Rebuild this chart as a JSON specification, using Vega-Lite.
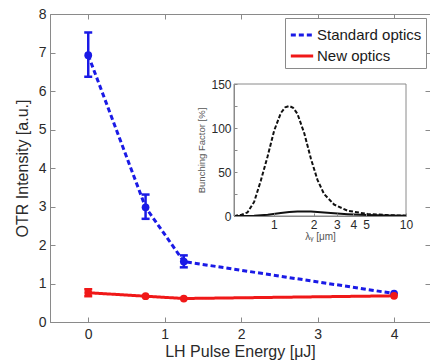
{
  "$schema": "https://vega.github.io/schema/vega-lite/v6.json",
  "width": 380,
  "height": 308,
  "autosize": {"type": "none"},
  "padding": {"left": 50, "top": 14, "right": 0, "bottom": 41},
  "background": "white",
  "config": {
    "font": "Liberation Sans",
    "view": {"stroke": "#8a8a8a", "strokeWidth": 1},
    "axis": {"grid": false, "labelOverlap": false, "domainColor": "#8a8a8a", "tickColor": "#8a8a8a", "labelColor": "#2a2a2a", "titleColor": "#2a2a2a", "titleFontWeight": "normal", "labelFont": "Liberation Sans", "titleFont": "Liberation Sans"},
    "legend": {"labelFont": "Liberation Sans"}
  },
  "datasets": {
    "main": [
      {"e": 0, "v": 6.93, "lo": 6.37, "hi": 7.52, "s": "Standard optics"},
      {"e": 0.75, "v": 2.98, "lo": 2.68, "hi": 3.31, "s": "Standard optics"},
      {"e": 1.25, "v": 1.57, "lo": 1.42, "hi": 1.73, "s": "Standard optics"},
      {"e": 4, "v": 0.74, "lo": null, "hi": null, "s": "Standard optics"},
      {"e": 0, "v": 0.76, "lo": 0.67, "hi": 0.85, "s": "New optics"},
      {"e": 0.75, "v": 0.67, "lo": null, "hi": null, "s": "New optics"},
      {"e": 1.25, "v": 0.61, "lo": null, "hi": null, "s": "New optics"},
      {"e": 4, "v": 0.68, "lo": null, "hi": null, "s": "New optics"}
    ],
    "inset": [
      {"lam": 0.5, "bf": 0, "c": "std"},
      {"lam": 0.515, "bf": 0.3, "c": "std"},
      {"lam": 0.57, "bf": 1.5, "c": "std"},
      {"lam": 0.632, "bf": 4, "c": "std"},
      {"lam": 0.71, "bf": 16, "c": "std"},
      {"lam": 0.797, "bf": 40, "c": "std"},
      {"lam": 0.895, "bf": 67, "c": "std"},
      {"lam": 1.006, "bf": 97, "c": "std"},
      {"lam": 1.13, "bf": 117, "c": "std"},
      {"lam": 1.22, "bf": 123.5, "c": "std"},
      {"lam": 1.31, "bf": 125, "c": "std"},
      {"lam": 1.4, "bf": 123, "c": "std"},
      {"lam": 1.51, "bf": 116, "c": "std"},
      {"lam": 1.7, "bf": 94, "c": "std"},
      {"lam": 1.91, "bf": 65, "c": "std"},
      {"lam": 2.14, "bf": 41, "c": "std"},
      {"lam": 2.4, "bf": 25, "c": "std"},
      {"lam": 2.86, "bf": 13, "c": "std"},
      {"lam": 3.61, "bf": 6, "c": "std"},
      {"lam": 5.12, "bf": 2.3, "c": "std"},
      {"lam": 7.26, "bf": 1, "c": "std"},
      {"lam": 10, "bf": 0.4, "c": "std"},
      {"lam": 0.5, "bf": 0, "c": "new"},
      {"lam": 0.71, "bf": 0.3, "c": "new"},
      {"lam": 0.9, "bf": 1.5, "c": "new"},
      {"lam": 1.13, "bf": 3.5, "c": "new"},
      {"lam": 1.31, "bf": 4.5, "c": "new"},
      {"lam": 1.51, "bf": 5, "c": "new"},
      {"lam": 1.7, "bf": 5.2, "c": "new"},
      {"lam": 1.91, "bf": 5, "c": "new"},
      {"lam": 2.4, "bf": 4, "c": "new"},
      {"lam": 2.86, "bf": 3, "c": "new"},
      {"lam": 3.61, "bf": 2, "c": "new"},
      {"lam": 5.12, "bf": 1, "c": "new"},
      {"lam": 7.26, "bf": 0.5, "c": "new"},
      {"lam": 10, "bf": 0.3, "c": "new"}
    ],
    "box": [{"x1": 0.5, "x2": 10, "y1": 0, "y2": 150}]
  },
  "layer": [
    {
      "data": {"name": "main"},
      "layer": [
        {
          "mark": {"type": "line", "strokeWidth": 3},
          "encoding": {
            "x": {"field": "e", "type": "quantitative", "scale": {"domain": [-0.5, 4.47], "nice": false, "zero": false},
              "axis": {"values": [0, 1, 2, 3, 4], "tickCount": 30, "format": "d", "title": "LH Pulse Energy [μJ]", "tickSize": -5, "labelPadding": 10, "labelFontSize": 14, "titleFontSize": 16, "titlePadding": 2}},
            "y": {"field": "v", "type": "quantitative", "scale": {"domain": [0, 8], "nice": false},
              "axis": {"values": [0, 1, 2, 3, 4, 5, 6, 7, 8], "tickCount": 30, "format": "d", "title": "OTR Intensity [a.u.]", "tickSize": -5, "labelPadding": 9, "labelFontSize": 14, "titleFontSize": 16, "titlePadding": 8}},
            "color": {"field": "s", "type": "nominal", "title": null,
              "scale": {"domain": ["Standard optics", "New optics"], "range": ["#1a1ae6", "#f01818"]},
              "legend": {"orient": "top-right", "offset": 4, "strokeColor": "#8a8a8a", "fillColor": "white", "padding": 4, "symbolType": "stroke", "symbolSize": 500, "symbolStrokeWidth": 3, "labelFontSize": 15, "labelColor": "#1a1a1a", "rowPadding": 0, "labelOffset": 2}},
            "strokeDash": {"field": "s", "type": "nominal", "title": null,
              "scale": {"domain": ["Standard optics", "New optics"], "range": [[5, 3], [1, 0]]},
              "legend": {"orient": "top-right", "offset": 4, "strokeColor": "#8a8a8a", "fillColor": "white", "padding": 4, "symbolType": "stroke", "symbolSize": 500, "symbolStrokeWidth": 3, "labelFontSize": 15, "labelColor": "#1a1a1a", "rowPadding": 0, "labelOffset": 2}}
          }
        },
        {
          "mark": {"type": "rule", "strokeWidth": 2.5},
          "encoding": {
            "x": {"field": "e", "type": "quantitative"},
            "y": {"field": "lo", "type": "quantitative"},
            "y2": {"field": "hi"},
            "color": {"field": "s", "type": "nominal", "legend": null}
          }
        },
        {
          "mark": {"type": "tick", "orient": "horizontal", "size": 8, "thickness": 2.5, "opacity": 1},
          "encoding": {
            "x": {"field": "e", "type": "quantitative"},
            "y": {"field": "lo", "type": "quantitative"},
            "color": {"field": "s", "type": "nominal", "legend": null}
          }
        },
        {
          "mark": {"type": "tick", "orient": "horizontal", "size": 8, "thickness": 2.5, "opacity": 1},
          "encoding": {
            "x": {"field": "e", "type": "quantitative"},
            "y": {"field": "hi", "type": "quantitative"},
            "color": {"field": "s", "type": "nominal", "legend": null}
          }
        },
        {
          "mark": {"type": "point", "filled": true, "opacity": 1, "size": 60, "shape": "circle"},
          "encoding": {
            "x": {"field": "e", "type": "quantitative"},
            "y": {"field": "v", "type": "quantitative"},
            "color": {"field": "s", "type": "nominal", "legend": null}
          }
        }
      ]
    },
    {
      "data": {"name": "main"},
      "mark": {"type": "point", "opacity": 0},
      "encoding": {
        "x": {"field": "e", "type": "quantitative", "scale": {"domain": [-0.5, 4.47], "nice": false, "zero": false},
          "axis": {"orient": "top", "values": [0, 1, 2, 3, 4], "tickCount": 30, "labels": false, "domain": false, "title": null, "tickSize": -5}},
        "y": {"field": "v", "type": "quantitative", "scale": {"domain": [0, 8], "nice": false},
          "axis": {"orient": "right", "values": [0, 1, 2, 3, 4, 5, 6, 7, 8], "tickCount": 30, "labels": false, "domain": false, "title": null, "tickSize": -5}}
      }
    },
    {
      "layer": [
        {
          "data": {"name": "box"},
          "mark": {"type": "rect", "fill": "white", "stroke": "#8a8a8a", "strokeWidth": 1},
          "encoding": {
            "x": {"field": "x1", "type": "quantitative", "scale": {"type": "log", "domain": [0.5, 10], "range": [184, 356], "nice": false},
              "axis": {"orient": "bottom", "offset": -106, "zindex": 1, "values": [1, 2, 3, 4, 5, 10], "tickCount": 30, "format": "d", "title": "λᵧ [μm]", "tickSize": -3, "labelPadding": 6, "labelFontSize": 12, "titleFontSize": 10, "titleColor": "#555", "titlePadding": 1, "labelFlush": false}},
            "x2": {"field": "x2"},
            "y": {"field": "y1", "type": "quantitative", "scale": {"domain": [0, 150], "range": [202, 70], "nice": false},
              "axis": {"orient": "left", "offset": -184, "zindex": 1, "values": [0, 25, 50, 75, 100, 125, 150], "tickCount": 30, "labelExpr": "datum.value % 50 === 0 ? datum.label : ''", "labelOverlap": false, "labelFlush": false, "labelBound": false, "format": "d", "title": "Bunching Factor [%]", "tickSize": -3, "labelPadding": 6, "labelFontSize": 12, "titleFontSize": 9.5, "titleColor": "#555", "titlePadding": 4}},
            "y2": {"field": "y2"}
          }
        },
        {
          "data": {"name": "inset"},
          "transform": [{"filter": "datum.c === 'new'"}],
          "mark": {"type": "line", "color": "#111", "strokeWidth": 2},
          "encoding": {
            "x": {"field": "lam", "type": "quantitative", "scale": {"type": "log", "domain": [0.5, 10], "range": [184, 356], "nice": false}},
            "y": {"field": "bf", "type": "quantitative", "scale": {"domain": [0, 150], "range": [202, 70], "nice": false}}
          }
        },
        {
          "data": {"name": "inset"},
          "transform": [{"filter": "datum.c === 'std'"}],
          "mark": {"type": "line", "color": "#111", "strokeWidth": 2, "strokeDash": [4, 2]},
          "encoding": {
            "x": {"field": "lam", "type": "quantitative", "scale": {"type": "log", "domain": [0.5, 10], "range": [184, 356], "nice": false}},
            "y": {"field": "bf", "type": "quantitative", "scale": {"domain": [0, 150], "range": [202, 70], "nice": false}}
          }
        }
      ]
    }
  ],
  "resolve": {"scale": {"x": "independent", "y": "independent"}, "axis": {"x": "independent", "y": "independent"}}
}
